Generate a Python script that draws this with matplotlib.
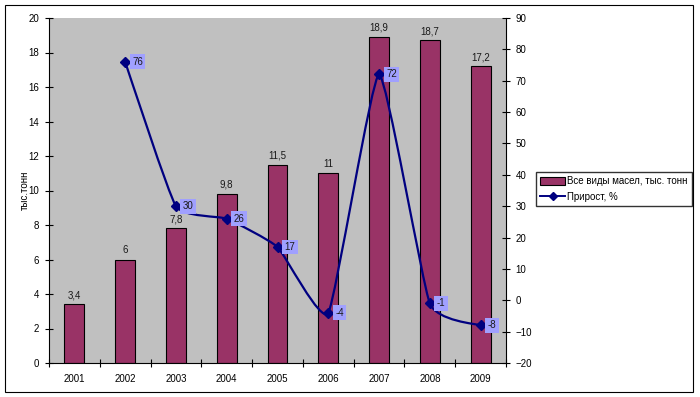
import numpy as np
import matplotlib
matplotlib.use("Agg")
import matplotlib.pyplot as plt
from matplotlib.path import Path
from matplotlib.patches import PathPatch, Rectangle
from matplotlib.lines import Line2D

plt.rcParams['font.family'] = ['Liberation Sans', 'DejaVu Sans']

years = ["2001", "2002", "2003", "2004", "2005", "2006", "2007", "2008", "2009"]
oils = [3.4, 6, 7.8, 9.8, 11.5, 11, 18.9, 18.7, 17.2]
oil_labels = ["3,4", "6", "7,8", "9,8", "11,5", "11", "18,9", "18,7", "17,2"]
growth_years = [1, 2, 3, 4, 5, 6, 7, 8]  # index into years
growth = [76, 30, 26, 17, -4, 72, -1, -8]

bar_color = "#993366"
line_color = "#000080"
plot_bg = "#C0C0C0"

fig = plt.figure(figsize=(7, 3.97), dpi=100)
fig.patches.append(Rectangle((5 / 700, 5 / 397), 688 / 700, 387 / 397,
                             transform=fig.transFigure, fill=False,
                             edgecolor="black", linewidth=0.8))

ax = fig.add_axes([49 / 700, 1 - 363 / 397, 457 / 700, 345 / 397])
ax.set_facecolor(plot_bg)
x = np.arange(len(years))
ax.bar(x, oils, width=0.39, color=bar_color, edgecolor="black", linewidth=0.8, zorder=2)
for xi, v, lab in zip(x, oils, oil_labels):
    ax.annotate(lab, (xi, v), xytext=(0, 3), textcoords="offset points",
                ha="center", va="bottom", fontsize=7, color="#1a1a1a")
ax.set_xlim(-0.5, len(years) - 0.5)
ax.set_ylim(0, 20)
ax.set_yticks(range(0, 21, 2))
ax.set_xticks(x)
ax.set_xticklabels(years, fontsize=7)
ax.set_xticks(np.arange(-0.5, len(years)), minor=True)
ax.tick_params(axis="x", which="major", length=0, pad=8)
ax.tick_params(axis="x", which="minor", length=6, direction="inout", width=0.8)
ax.tick_params(axis="y", labelsize=7, length=6, direction="inout", width=0.8, pad=4)
for s in ["top", "right"]:
    ax.spines[s].set_visible(False)
ax.spines["left"].set_linewidth(0.8)
ax.spines["bottom"].set_linewidth(0.8)
ax.set_ylabel("тыс.тонн", fontsize=7, labelpad=-1)

ax2 = ax.twinx()
ax2.set_ylim(-20, 90)
ax2.set_yticks(range(-20, 91, 10))
ax2.tick_params(axis="y", labelsize=7, length=6, direction="inout", width=0.8, pad=4)
for s in ["top", "left", "bottom"]:
    ax2.spines[s].set_visible(False)
ax2.spines["right"].set_linewidth(0.8)

# lightly smoothed line (low-tension Bezier) through the data points
px = np.array(growth_years, dtype=float)
py = np.array(growth, dtype=float)
pts = np.column_stack([px, py])
verts = [pts[0]]
codes = [Path.MOVETO]
n = len(pts)
k = 14
for i in range(n - 1):
    p0 = pts[i - 1] if i > 0 else pts[i]
    p1 = pts[i]
    p2 = pts[i + 1]
    p3 = pts[i + 2] if i + 2 < n else pts[i + 1]
    c1 = p1 + (p2 - p0) / k
    c2 = p2 - (p3 - p1) / k
    verts += [c1, c2, p2]
    codes += [Path.CURVE4] * 3
ax2.add_patch(PathPatch(Path(verts, codes), fill=False, edgecolor=line_color,
                        linewidth=1.6, zorder=3))
ax2.plot(px, py, linestyle="none", marker="D", markersize=5,
         color=line_color, zorder=4)
for xi, v in zip(px, py):
    ax2.annotate(str(int(v)), (xi, v), xytext=(5, 0), textcoords="offset points",
                 ha="left", va="center", fontsize=7, color="#1a1a1a", zorder=5,
                 bbox=dict(boxstyle="square,pad=0.25", facecolor="#A0A0FF",
                           edgecolor="none"))

handles = [Rectangle((0, 0), 1, 1, facecolor=bar_color, edgecolor="black", linewidth=0.8),
           Line2D([], [], color=line_color, marker="D", markersize=4, linewidth=1.4)]
fig.legend(handles, ["Все виды масел, тыс. тонн", "Прирост, %"],
           loc="upper left", bbox_to_anchor=(536 / 700, 1 - 172 / 397),
           fontsize=7, frameon=True, fancybox=False, edgecolor="black",
           handlelength=2.5, handleheight=0.8, borderpad=0.45, labelspacing=0.55,
           handletextpad=0.2, borderaxespad=0)

fig.savefig("out.png", dpi=100)
